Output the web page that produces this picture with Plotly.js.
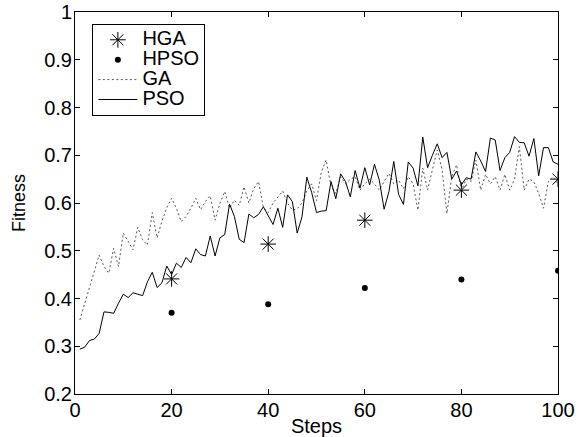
<!DOCTYPE html>
<html>
<head>
<meta charset="utf-8">
<script src="https://cdn.plot.ly/plotly-3.0.1.min.js"></script>
<style>html,body{margin:0;padding:0;background:#fff;}#chart{width:584px;height:437px;}</style>
</head>
<body>
<div id="chart"></div>
<script>
const steps = Array.from({length: 100}, (_, i) => i + 1);

const psoValues = [
  0.294, 0.298, 0.312, 0.315, 0.327, 0.372, 0.371, 0.369, 0.390, 0.409,
  0.402, 0.412, 0.409, 0.406, 0.435, 0.455, 0.423, 0.433, 0.468, 0.450,
  0.474, 0.465, 0.486, 0.475, 0.504, 0.492, 0.489, 0.531, 0.489, 0.527,
  0.534, 0.598, 0.572, 0.524, 0.517, 0.577, 0.569, 0.576, 0.592, 0.573,
  0.555, 0.589, 0.549, 0.617, 0.603, 0.537, 0.571, 0.654, 0.622, 0.580,
  0.583, 0.584, 0.645, 0.609, 0.661, 0.645, 0.613, 0.668, 0.631, 0.674,
  0.638, 0.681, 0.648, 0.587, 0.624, 0.687, 0.618, 0.597, 0.686, 0.673,
  0.636, 0.738, 0.674, 0.700, 0.724, 0.695, 0.706, 0.650, 0.667, 0.638,
  0.653, 0.650, 0.707, 0.688, 0.666, 0.736, 0.732, 0.668, 0.695, 0.706,
  0.739, 0.727, 0.726, 0.698, 0.735, 0.657, 0.716, 0.716, 0.686, 0.681
];

const gaValues = [
  0.355, 0.390, 0.425, 0.460, 0.491, 0.467, 0.453, 0.505, 0.467, 0.537,
  0.520, 0.502, 0.549, 0.523, 0.512, 0.580, 0.527, 0.562, 0.590, 0.610,
  0.589, 0.561, 0.572, 0.589, 0.610, 0.586, 0.603, 0.615, 0.564, 0.599,
  0.624, 0.589, 0.606, 0.595, 0.634, 0.600, 0.630, 0.645, 0.590, 0.580,
  0.600, 0.612, 0.625, 0.600, 0.585, 0.588, 0.600, 0.625, 0.640, 0.605,
  0.665, 0.690, 0.635, 0.620, 0.655, 0.640, 0.650, 0.655, 0.627, 0.640,
  0.650, 0.640, 0.627, 0.645, 0.662, 0.640, 0.648, 0.630, 0.655, 0.640,
  0.585, 0.673, 0.627, 0.670, 0.711, 0.670, 0.578, 0.655, 0.680, 0.627,
  0.650, 0.645, 0.690, 0.627, 0.660, 0.640, 0.655, 0.627, 0.660, 0.627,
  0.650, 0.718, 0.627, 0.650, 0.645, 0.620, 0.589, 0.645, 0.655, 0.640
];

const hybridSteps = [20, 40, 60, 80, 100];
const hgaValues = [0.441, 0.514, 0.564, 0.627, 0.650];
const hpsoValues = [0.370, 0.388, 0.422, 0.440, 0.458];

const seriesNames = ['HGA', 'HPSO', 'GA', 'PSO'];

const xTicks = [0, 20, 40, 60, 80, 100];
const yTicks = [0.2, 0.3, 0.4, 0.5, 0.6, 0.7, 0.8, 0.9, 1];
const yTickLabels = ['0.2', '0.3', '0.4', '0.5', '0.6', '0.7', '0.8', '0.9', '1'];

const NARROW = '"Liberation Sans Narrow", "Arial Narrow", "Liberation Sans", Arial, sans-serif';
const REGULAR = '"Liberation Sans", Arial, sans-serif';

function legendName(s) {
  return '<span style="font-size:20px">' + s + '</span>';
}

const traces = [
  {
    x: hybridSteps, y: hgaValues, name: legendName(seriesNames[0]), mode: 'markers', type: 'scatter',
    marker: {symbol: 'asterisk-open', size: 13, color: '#000', line: {color: '#000', width: 1}}
  },
  {
    x: hybridSteps, y: hpsoValues, name: legendName(seriesNames[1]), mode: 'markers', type: 'scatter',
    marker: {symbol: 'circle', size: 6, color: '#000'}
  },
  {
    x: steps, y: gaValues, name: legendName(seriesNames[2]), mode: 'lines', type: 'scatter',
    line: {color: '#555', width: 1, dash: '2px,2.5px'}
  },
  {
    x: steps, y: psoValues, name: legendName(seriesNames[3]), mode: 'lines', type: 'scatter',
    line: {color: '#000', width: 1}
  }
];

const axisCommon = {
  showgrid: false, zeroline: false, showline: true, linecolor: '#000', linewidth: 1,
  mirror: 'ticks', ticks: 'inside', ticklen: 5, tickcolor: '#000', tickwidth: 1,
  tickfont: {family: NARROW, size: 20, color: '#000'}
};

const layout = {
  width: 584, height: 437,
  margin: {l: 75, r: 26, t: 12, b: 43},
  paper_bgcolor: '#fff', plot_bgcolor: '#fff',
  font: {family: NARROW, size: 20, color: '#000'},
  showlegend: true,
  legend: {
    x: 0.036, y: 0.969, xanchor: 'left', yanchor: 'top',
    bordercolor: '#000', borderwidth: 1, bgcolor: '#fff',
    font: {family: NARROW, size: 13, color: '#000'},
    itemwidth: 39,
    tracegroupgap: 0
  },
  xaxis: Object.assign({}, axisCommon, {
    range: [0, 100], tickvals: xTicks, ticktext: xTicks.map(String),
    ticklabelstandoff: -2,
    title: {text: 'Steps', font: {family: NARROW, size: 20, color: '#000'}, standoff: 2}
  }),
  yaxis: Object.assign({}, axisCommon, {
    range: [0.2, 1], tickvals: yTicks, ticktext: yTickLabels,
    ticklabelstandoff: -2,
    title: {text: 'Fitness', font: {family: REGULAR, size: 18, color: '#000'}, standoff: 13}
  })
};

Plotly.newPlot('chart', traces, layout, {displayModeBar: false, staticPlot: true});
</script>
</body>
</html>
